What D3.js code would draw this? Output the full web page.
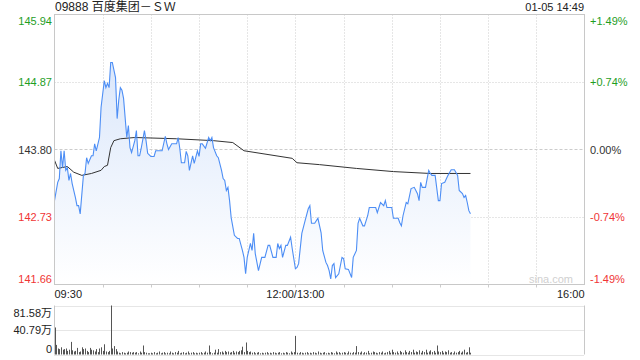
<!DOCTYPE html>
<html>
<head>
<meta charset="utf-8">
<script src="https://cdn.jsdelivr.net/npm/d3@7"></script>
<style>
  body { margin: 0; background: #fff; }
  svg text { font-family: "Liberation Sans", Arial, "Noto Sans CJK SC", sans-serif; }
</style>
</head>
<body>
<svg id="chart" width="640" height="360"></svg>
<script>
// stock info
const title = "09888 百度集团－ＳＷ";
const stamp = "01-05 14:49";
const prevClose = 143.80;

// price axis ticks and time labels
const priceTicks = [145.94, 144.87, 143.80, 142.73, 141.66];
const timeLabels = ["09:30", "12:00/13:00", "16:00"];
const timeLabelMinutes = [0, 150, 330];
const volumeTicks = [81.58, 40.79, 0];

// price line (trading minutes since 09:30, lunch removed)
const priceMinutes = [0,2,3,4,5,6,7,8,9,10,11,13,14,15,16,18,19,20,21,23,24,25,26,28,29,31,32,33,34,35,36,38,39,40,41,42,43,45,46,47,48,50,51,52,53,54,56,57,58,60,62,63,65,67,69,70,71,73,76,77,78,79,81,82,83,84,86,87,89,90,91,92,94,96,97,98,99,101,102,104,105,106,107,108,109,110,112,114,115,117,118,119,120,122,123,124,125,127,129,131,133,134,136,138,139,140,141,142,144,145,147,148,150,
  151,152,154,156,158,159,160,162,164,166,167,169,170,171,172,173,174,175,177,179,180,181,183,185,186,188,189,190,192,193,195,196,200,201,202,203,205,206,207,210,211,214,215,216,217,219,220,222,224,226,227,228,229,231,233,234,235,237,239,240,241,243,245,247,249,251,252,254,255,256,257,258,259];
const priceValues = [142.99,143.28,143.34,143.78,143.51,143.78,143.47,143.51,143.31,143.42,143.26,143.04,142.91,142.91,142.78,143.39,143.42,143.67,143.58,143.70,143.70,143.89,143.78,143.99,144.47,144.89,144.78,144.85,144.78,145.18,145.18,144.94,144.29,144.58,144.78,144.74,144.61,143.99,144.18,143.83,143.75,143.94,144.10,143.70,143.70,143.82,144.10,143.94,143.74,143.69,143.69,143.78,143.78,143.78,144.01,143.89,143.80,143.89,143.89,143.99,143.82,143.59,143.59,143.77,143.70,143.47,143.70,143.58,143.78,143.69,143.89,143.89,143.82,143.99,143.94,143.99,143.83,143.70,143.67,143.47,143.34,143.31,143.15,143.20,142.99,142.72,142.44,142.39,142.39,142.20,142.09,141.83,142.09,142.31,142.20,142.47,142.15,141.88,142.09,142.09,142.28,142.28,142.09,142.09,142.31,142.23,142.28,142.09,142.28,142.28,142.41,142.23,141.91,
  141.93,141.99,142.47,142.67,142.86,142.91,142.63,142.63,142.71,142.48,142.20,142.01,141.96,141.88,141.75,141.96,141.99,141.77,141.83,142.09,142.07,141.91,141.90,141.77,142.09,142.20,142.63,142.71,142.59,142.59,142.75,142.88,142.88,142.80,142.88,142.96,142.91,142.99,142.88,142.88,142.71,142.71,142.64,142.59,142.75,142.96,142.94,143.18,143.20,143.10,142.99,143.28,143.20,143.20,143.47,143.42,143.39,143.39,142.99,142.99,143.26,143.28,143.39,143.48,143.48,143.39,143.15,143.10,143.04,143.07,142.96,142.83,142.78];

// average price line
const avgMinutes = [0,2,4,8,12,17,23,29,31,33,35,37,41,50,76,99,111,118,148,151,165,188,211,234,259];
const avgValues = [143.63,143.50,143.51,143.53,143.44,143.39,143.42,143.47,143.53,143.55,143.83,143.94,143.97,143.99,143.97,143.94,143.91,143.78,143.66,143.59,143.56,143.50,143.45,143.42,143.42];

// volume per minute, in 万
const volumes = [45,16,10,9,12,8,9,10,6,8, 21,7,5,6,11,4,5,12,9,10, 6,4,11,8,7,5,9,4,10,12, 6,17,5,4,6,81.58,10,14,9,5,
  3,2,4,3,2,3,5,4,3,4, 3,4,2,5,3,15,4,3,2,2, 3,2,4,2,3,5,2,3,4,2, 3,2,5,3,2,4,3,6,2,3, 4,2,3,5,2,3,4,2,3,2,
  3,4,2,3,5,3,15,4,2,3, 8,3,9,4,5,3,6,4,5,3, 4,6,3,5,4,6,7,13,4,20, 6,4,5,3,4,2,3,4,2,3, 2,3,4,2,3,2,4,3,2,3,
  4,2,3,2,4,3,2,5,3,4, 31,
  3,2,4,3,2,3,4,2,3, 2,4,3,2,5,3,2,3,4,2, 3,2,4,3,2,5,3,4,2,3, 4,3,2,5,3,2,4,3,14,4, 3,5,2,4,3,6,2,3,5,4,
  3,2,4,3,5,2,3,4,6,3, 8,4,3,5,2,6,4,3,7,4, 3,6,4,8,3,5,4,7,3,6, 4,8,3,5,7,4,6,3,15,5, 4,6,3,5,4,7,3,4,2,5,
  3,4,6,3,5,8,3,4,12,3];

const svg = d3.select("#chart");
const pLeft = 54.5, pRight = 584.5, pTop = 14.5, pBottom = 284.5;
const vTop = 305.5, vBottom = 354.5;

const x = d3.scaleLinear().domain([0, 330]).range([pLeft, pRight]);
const y = d3.scaleLinear().domain([141.66, 145.94]).range([pBottom, pTop]);
const yv = d3.scaleLinear().domain([0, 81.58]).range([vBottom, vTop]);

const green = "#1f9e1f", red = "#f03535", dark = "#333";
const tickColor = v => v > prevClose ? green : (v < prevClose ? red : dark);

// gradient for area
const defs = svg.append("defs");
const grad = defs.append("linearGradient").attr("id", "fillGrad")
  .attr("gradientUnits", "userSpaceOnUse")
  .attr("x1", 0).attr("y1", pTop).attr("x2", 0).attr("y2", pBottom);
grad.append("stop").attr("offset", "0%").attr("stop-color", "#d3e2fa");
grad.append("stop").attr("offset", "100%").attr("stop-color", "#ffffff");

// grid
const grid = svg.append("g");
d3.range(30, 330, 30).forEach(m => {
  const gx = Math.round(x(m)) + 0.5;
  grid.append("line")
    .attr("x1", gx).attr("x2", gx)
    .attr("y1", pTop).attr("y2", pBottom)
    .attr("stroke", "#ccc").attr("stroke-dasharray", "1,2");
  grid.append("line")
    .attr("x1", gx).attr("x2", gx)
    .attr("y1", pBottom).attr("y2", pBottom + 3)
    .attr("stroke", "#ccc");
});
priceTicks.slice(1, -1).forEach(p => {
  grid.append("line")
    .attr("x1", pLeft).attr("x2", pRight)
    .attr("y1", Math.round(y(p)) + 0.5).attr("y2", Math.round(y(p)) + 0.5)
    .attr("stroke", "#ccc")
    .attr("stroke-dasharray", p === prevClose ? "3,2" : "1,2");
});

// area + lines
const data = priceMinutes.map((m, i) => ({ m: m, p: priceValues[i] }));
const avgData = avgMinutes.map((m, i) => ({ m: m, p: avgValues[i] }));

svg.append("path")
  .datum(data)
  .attr("fill", "url(#fillGrad)")
  .attr("d", d3.area().x(d => x(d.m)).y0(pBottom).y1(d => y(d.p)));

svg.append("path")
  .datum(avgData)
  .attr("fill", "none").attr("stroke", "#333").attr("stroke-width", 1)
  .attr("d", d3.line().x(d => x(d.m)).y(d => y(d.p)));

svg.append("path")
  .datum(data)
  .attr("fill", "none").attr("stroke", "#4d8ef5").attr("stroke-width", 1.1)
  .attr("d", d3.line().x(d => x(d.m)).y(d => y(d.p)));

// frame
svg.append("rect")
  .attr("x", pLeft).attr("y", pTop)
  .attr("width", pRight - pLeft).attr("height", pBottom - pTop)
  .attr("fill", "none").attr("stroke", "#c8c8c8");

// watermark
svg.append("text")
  .attr("x", 573).attr("y", 283)
  .attr("text-anchor", "end").attr("font-size", 11).attr("fill", "#d0d0d0")
  .text("sina.com");

// left and right labels
priceTicks.forEach((p, i) => {
  let ty = y(p) + 4;
  if (i === 0) ty = pTop + 10;
  if (i === priceTicks.length - 1) ty = pBottom - 2;
  svg.append("text")
    .attr("x", 52).attr("y", ty)
    .attr("text-anchor", "end").attr("font-size", 11).attr("fill", tickColor(p))
    .text(p.toFixed(2));
  const pct = (p - prevClose) / prevClose * 100;
  svg.append("text")
    .attr("x", 590).attr("y", ty)
    .attr("font-size", 11).attr("fill", tickColor(p))
    .text((pct > 0.001 ? "+" : "") + pct.toFixed(2) + "%");
});

// time labels
timeLabels.forEach((t, i) => {
  svg.append("text")
    .attr("x", x(timeLabelMinutes[i]))
    .attr("y", 298)
    .attr("text-anchor", i === 0 ? "start" : (i === timeLabels.length - 1 ? "end" : "middle"))
    .attr("font-size", 11).attr("fill", "#222")
    .text(t);
});

// title + stamp
svg.append("text").attr("x", 55).attr("y", 11)
  .attr("font-size", 12).attr("fill", "#222").text(title);
svg.append("text").attr("x", 584).attr("y", 11)
  .attr("text-anchor", "end").attr("font-size", 11).attr("fill", "#222").text(stamp);

// volume panel
const vol = svg.append("g");
volumeTicks.forEach(v => {
  vol.append("line")
    .attr("x1", pLeft).attr("x2", pRight)
    .attr("y1", Math.round(yv(v)) + 0.5).attr("y2", Math.round(yv(v)) + 0.5)
    .attr("stroke", "#ccc").attr("stroke-dasharray", "1,1");
});
vol.append("line").attr("x1", pLeft).attr("x2", pLeft).attr("y1", vTop).attr("y2", vBottom).attr("stroke", "#c8c8c8");
vol.append("line").attr("x1", pRight).attr("x2", pRight).attr("y1", vTop).attr("y2", vBottom).attr("stroke", "#c8c8c8");

vol.selectAll("rect.bar")
  .data(volumes)
  .join("rect")
  .attr("class", "bar")
  .attr("x", (d, i) => Math.round(x(i)))
  .attr("y", d => yv(d))
  .attr("width", 1)
  .attr("height", d => vBottom - yv(d))
  .attr("fill", "#555");

volumeTicks.forEach((v, i) => {
  let ty = yv(v) + 4;
  if (i === 0) ty = vTop + 11;
  if (i === volumeTicks.length - 1) ty = vBottom - 2;
  vol.append("text")
    .attr("x", 52).attr("y", ty)
    .attr("text-anchor", "end").attr("font-size", 11).attr("fill", "#222")
    .text(v === 0 ? "0" : v.toFixed(2) + "万");
});
</script>
</body>
</html>
